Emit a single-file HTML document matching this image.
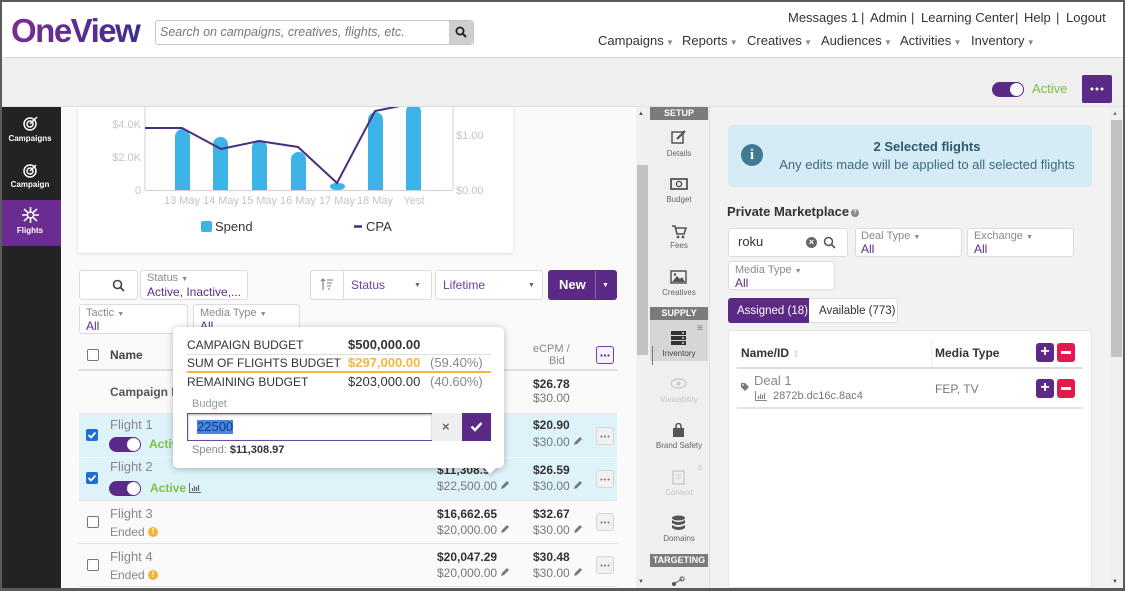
<!DOCTYPE html>
<html><head><meta charset="utf-8">
<style>
*{box-sizing:border-box;margin:0;padding:0}
body{width:1125px;height:591px;overflow:hidden;position:relative;background:#fafafa;font-family:"Liberation Sans",Arial,sans-serif;color:#333}
.a{position:absolute}
.t{position:absolute;white-space:nowrap;line-height:14px}
.b{font-weight:bold}
.box{position:absolute;background:#fff;border:1px solid #dcdcdc;border-radius:3px}
.cb{position:absolute;width:12px;height:12px;border:1px solid #777;border-radius:2px;background:#fff}
.cbk{position:absolute;width:12px;height:12px;border-radius:2px;background:#1d6fd6}
.dots{position:absolute;width:18px;height:18px;background:#f1f1f1;border:1px solid #d6d6d6;border-radius:3px}
.lab{font-size:11px;color:#8a8a8a}
.pv{font-size:12px;color:#5b2a86}
.nl{position:absolute;width:58px;text-align:center;font-size:8px;color:#666;line-height:10px}
.sec{position:absolute;left:650px;width:58px;height:13px;background:#7b7b7b;color:#fff;font-size:9px;font-weight:bold;text-align:center;line-height:13px}
.g{color:#777}
.warn{position:absolute;width:10px;height:10px;border-radius:50%;background:#f5b335;color:#fff;font-size:8px;font-weight:bold;text-align:center;line-height:10px}
</style></head><body>

<!-- header -->
<div class="a" style="left:0;top:0;width:1125px;height:58px;background:#fff;border-bottom:1px solid #d8d8d8"></div>
<div class="a" style="left:0;top:58px;width:1125px;height:49px;background:#f0efef;border-bottom:1px solid #e2e2e2"></div>
<div class="t b" style="left:11px;top:14px;font-size:33px;line-height:33px;letter-spacing:-1.5px;padding-right:6px;background:linear-gradient(90deg,#7b2d94,#3c2d8c);-webkit-background-clip:text;background-clip:text;color:transparent">OneView</div>
<div class="a" style="left:155px;top:20px;width:319px;height:25px;border:1px solid #c4c4c4;border-radius:3px;background:#fff"></div>
<div class="t" style="left:160px;top:25px;font-size:12.5px;font-style:italic;color:#777">Search on campaigns, creatives, flights, etc.</div>
<div class="a" style="left:449px;top:21px;width:24px;height:23px;background:#cfcfcf;border-radius:0 3px 3px 0"></div>
<svg class="a" style="left:455px;top:26px" width="12" height="12"><circle cx="5" cy="5" r="3.6" fill="none" stroke="#222" stroke-width="1.8"/><line x1="7.5" y1="7.5" x2="11" y2="11" stroke="#222" stroke-width="2"/></svg>

<div class="t" style="left:788px;top:11px;font-size:13px">Messages 1</div>
<div class="t" style="left:861px;top:11px;font-size:13px">|</div>
<div class="t" style="left:870px;top:11px;font-size:13px">Admin</div>
<div class="t" style="left:911px;top:11px;font-size:13px">|</div>
<div class="t" style="left:921px;top:11px;font-size:13px">Learning Center</div>
<div class="t" style="left:1015px;top:11px;font-size:13px">|</div>
<div class="t" style="left:1024px;top:11px;font-size:13px">Help</div>
<div class="t" style="left:1056px;top:11px;font-size:13px">|</div>
<div class="t" style="left:1066px;top:11px;font-size:13px">Logout</div>

<div class="t" style="left:598px;top:34px;font-size:13px">Campaigns<span style="font-size:8px;color:#888"> ▼</span></div>
<div class="t" style="left:682px;top:34px;font-size:13px">Reports<span style="font-size:8px;color:#888"> ▼</span></div>
<div class="t" style="left:747px;top:34px;font-size:13px">Creatives<span style="font-size:8px;color:#888"> ▼</span></div>
<div class="t" style="left:821px;top:34px;font-size:13px">Audiences<span style="font-size:8px;color:#888"> ▼</span></div>
<div class="t" style="left:900px;top:34px;font-size:13px">Activities<span style="font-size:8px;color:#888"> ▼</span></div>
<div class="t" style="left:971px;top:34px;font-size:13px">Inventory<span style="font-size:8px;color:#888"> ▼</span></div>

<div class="a" style="left:992px;top:82px;width:32px;height:15px;border-radius:8px;background:#5b2a86"></div>
<div class="a" style="left:1010px;top:83px;width:13px;height:13px;border-radius:50%;background:#fff"></div>
<div class="t" style="left:1032px;top:82px;font-size:13px;color:#7cc242">Active</div>
<div class="a" style="left:1082px;top:75px;width:30px;height:28px;background:#5b2a86;border-radius:2px"></div>
<svg class="a" style="left:1090px;top:87px" width="14" height="4"><circle cx="2" cy="2" r="1.5" fill="#fff"/><circle cx="7" cy="2" r="1.5" fill="#fff"/><circle cx="12" cy="2" r="1.5" fill="#fff"/></svg>

<!-- left sidebar -->
<div class="a" style="left:0;top:107px;width:61px;height:484px;background:#232323"></div>
<div class="a" style="left:0;top:200px;width:61px;height:46px;background:#6a2c91"></div>
<svg class="a" style="left:22px;top:115px" width="17" height="16"><circle cx="8" cy="9" r="6" fill="none" stroke="#fff" stroke-width="1.5"/><circle cx="8" cy="9" r="3" fill="none" stroke="#fff" stroke-width="1.5"/><line x1="8" y1="9" x2="15" y2="2" stroke="#fff" stroke-width="1.5"/></svg>
<div class="nl" style="left:1px;top:134px;color:#fff;font-weight:bold">Campaigns</div>
<svg class="a" style="left:22px;top:162px" width="17" height="16"><circle cx="8" cy="9" r="6" fill="none" stroke="#fff" stroke-width="1.5"/><circle cx="8" cy="9" r="3" fill="none" stroke="#fff" stroke-width="1.5"/><line x1="8" y1="9" x2="14" y2="3" stroke="#fff" stroke-width="1.5"/></svg>
<div class="nl" style="left:1px;top:180px;color:#fff;font-weight:bold">Campaign</div>
<svg class="a" style="left:21px;top:206px" width="19" height="18"><path d="M3 3 L16 15 M16 3 L3 15 M9.5 1 L9.5 17 M1 9 L18 9" stroke="#fff" stroke-width="1.6"/><circle cx="9.5" cy="9" r="3" fill="#6a2c91" stroke="#fff" stroke-width="1.4"/></svg>
<div class="nl" style="left:1px;top:226px;color:#fff;font-weight:bold">Flights</div>

<!-- chart card -->
<div class="a" style="left:78px;top:107px;width:435px;height:146px;background:#fff;box-shadow:0 1px 3px rgba(0,0,0,.13)"></div>
<svg class="a" style="left:78px;top:107px" width="435" height="146" font-family="Liberation Sans, Arial, sans-serif">
<g transform="translate(-78,-107)">
<line x1="145" y1="107" x2="145" y2="190" stroke="#d0d0d0"/>
<line x1="453" y1="107" x2="453" y2="190" stroke="#d0d0d0"/>
<line x1="145" y1="190.5" x2="453" y2="190.5" stroke="#d0d0d0"/>
<g fill="#3db4e8">
<rect x="175" y="129" width="15" height="61" rx="7.5"/><rect x="175" y="140" width="15" height="50"/>
<rect x="213" y="137" width="15" height="53" rx="7.5"/><rect x="213" y="148" width="15" height="42"/>
<rect x="252" y="140" width="15" height="50" rx="7.5"/><rect x="252" y="151" width="15" height="39"/>
<rect x="291" y="152" width="15" height="38" rx="7.5"/><rect x="291" y="163" width="15" height="27"/>
<rect x="330" y="183" width="15" height="7" rx="6"/>
<rect x="368" y="112" width="15" height="78" rx="7.5"/><rect x="368" y="123" width="15" height="67"/>
<rect x="406" y="104" width="15" height="86" rx="7.5"/><rect x="406" y="115" width="15" height="75"/>
</g>
<polyline points="145,128 182,128 221,149 259,141 298,147 337,183 375,111 400,106 420,100" fill="none" stroke="#4b2c7e" stroke-width="2"/>
<g font-size="11" fill="#c4c4c4">
<text x="141" y="128" text-anchor="end">$4.0K</text>
<text x="141" y="161" text-anchor="end">$2.0K</text>
<text x="141" y="194" text-anchor="end">0</text>
<text x="456" y="139">$1.00</text>
<text x="456" y="194">$0.00</text>
<g text-anchor="middle">
<text x="182" y="204">13 May</text><text x="221" y="204">14 May</text><text x="259" y="204">15 May</text><text x="298" y="204">16 May</text><text x="337" y="204">17 May</text><text x="375" y="204">18 May</text><text x="414" y="204">Yest</text>
</g></g>
<rect x="201" y="221" width="11" height="11" rx="2" fill="#3db4e8"/>
<text x="215" y="231" font-size="13" fill="#333">Spend</text>
<line x1="354" y1="226.5" x2="362" y2="226.5" stroke="#4b2c7e" stroke-width="2.5"/>
<text x="366" y="231" font-size="13" fill="#333">CPA</text>
</g></svg>

<!-- filters -->
<div class="box" style="left:79px;top:270px;width:59px;height:30px"></div>
<svg class="a" style="left:112px;top:279px" width="13" height="13"><circle cx="5.5" cy="5.5" r="4" fill="none" stroke="#444" stroke-width="1.6"/><line x1="8.5" y1="8.5" x2="12" y2="12" stroke="#444" stroke-width="1.8"/></svg>
<div class="box" style="left:140px;top:270px;width:108px;height:30px"></div>
<div class="t lab" style="left:147px;top:271px">Status <span style="font-size:7px">▼</span></div>
<div class="t pv" style="left:147px;top:285px">Active, Inactive,...</div>
<div class="box" style="left:310px;top:270px;width:122px;height:30px"></div>
<div class="a" style="left:343px;top:271px;width:1px;height:28px;background:#dcdcdc"></div>
<svg class="a" style="left:320px;top:278px" width="14" height="13"><path d="M3 12 V1 M1 3 L3 1 L5 3" stroke="#777" fill="none" stroke-width="1.1"/><path d="M7 2 H13 M7 5 H12 M7 8 H11 M8 11 H10" stroke="#777" stroke-width="1.1"/></svg>
<div class="t" style="left:351px;top:278px;font-size:12px;color:#6b3fa0">Status</div>
<div class="t" style="left:414px;top:279px;font-size:7px;color:#666">▼</div>
<div class="box" style="left:435px;top:270px;width:108px;height:30px"></div>
<div class="t" style="left:443px;top:278px;font-size:12px;color:#6b3fa0">Lifetime</div>
<div class="t" style="left:528px;top:279px;font-size:7px;color:#666">▼</div>
<div class="a" style="left:548px;top:270px;width:69px;height:30px;background:#5b2a86;border-radius:3px"></div>
<div class="a" style="left:595px;top:271px;width:1px;height:28px;background:#8a64ad"></div>
<div class="t b" style="left:559px;top:278px;font-size:13px;color:#fff">New</div>
<div class="t" style="left:602px;top:279px;font-size:7px;color:#fff">▼</div>

<div class="box" style="left:79px;top:304px;width:109px;height:30px"></div>
<div class="t lab" style="left:86px;top:306px">Tactic <span style="font-size:7px">▼</span></div>
<div class="t pv" style="left:86px;top:319px">All</div>
<div class="box" style="left:193px;top:304px;width:107px;height:30px"></div>
<div class="t lab" style="left:200px;top:306px">Media Type <span style="font-size:7px">▼</span></div>
<div class="t pv" style="left:200px;top:319px">All</div>

<!-- table -->
<div class="a" style="left:79px;top:369px;width:538px;height:2px;background:#e0e0e0"></div>
<div class="cb" style="left:87px;top:349px"></div>
<div class="t b" style="left:110px;top:348px;font-size:12px;color:#444">Name</div>
<div class="t" style="left:533px;top:342px;font-size:11px;color:#888">eCPM /</div>
<div class="t" style="left:549px;top:354px;font-size:11px;color:#888">Bid</div>
<div class="a" style="left:596px;top:346px;width:18px;height:18px;border:1px solid #6b3fa0;border-radius:3px;background:#f6f1fa"></div>
<svg class="a" style="left:600px;top:354px" width="10" height="3"><circle cx="1.5" cy="1.5" r="1.1" fill="#5b2a86"/><circle cx="5" cy="1.5" r="1.1" fill="#5b2a86"/><circle cx="8.5" cy="1.5" r="1.1" fill="#5b2a86"/></svg>

<div class="t b" style="left:110px;top:385px;font-size:12px;color:#555">Campaign Pe</div>
<div class="t b" style="left:533px;top:377px;font-size:12px">$26.78</div>
<div class="t g" style="left:533px;top:391px;font-size:12px">$30.00</div>
<div class="a" style="left:79px;top:413px;width:538px;height:1px;background:#e6e6e6"></div>

<div class="a" style="left:79px;top:414px;width:538px;height:86px;background:#def2fa"></div>
<div class="a" style="left:79px;top:457px;width:538px;height:1px;background:#f4fbfe"></div>
<div class="a" style="left:79px;top:500px;width:538px;height:1px;background:#e3e3e3"></div>
<div class="a" style="left:79px;top:543px;width:538px;height:1px;background:#e3e3e3"></div>
<div class="a" style="left:79px;top:586px;width:538px;height:1px;background:#e3e3e3"></div>

<!-- Flight 1 -->
<div class="cbk" style="left:86px;top:429px"></div>
<svg class="a" style="left:86px;top:429px" width="12" height="12"><path d="M2.5 6 L5 8.5 L9.5 3.5" stroke="#fff" stroke-width="1.8" fill="none"/></svg>
<div class="t" style="left:110px;top:418px;font-size:13px;color:#888">Flight 1</div>
<div class="a" style="left:109px;top:437px;width:32px;height:15px;border-radius:8px;background:#5b2a86"></div>
<div class="a" style="left:127px;top:438px;width:13px;height:13px;border-radius:50%;background:#fff"></div>
<div class="t b" style="left:149px;top:437px;font-size:12px;color:#7cc242">Active</div>
<div class="t b" style="left:533px;top:418px;font-size:12px">$20.90</div>
<div class="t g" style="left:533px;top:435px;font-size:12px">$30.00 <svg width="10" height="10"><path d="M1 9 L2 6 L7 1 L9 3 L4 8 Z" fill="#777"/></svg></div>
<div class="dots" style="left:596px;top:427px"></div>
<svg class="a" style="left:600px;top:435px" width="10" height="3"><circle cx="1.5" cy="1.5" r="1" fill="#777"/><circle cx="5" cy="1.5" r="1" fill="#777"/><circle cx="8.5" cy="1.5" r="1" fill="#777"/></svg>

<!-- Flight 2 -->
<div class="cbk" style="left:86px;top:472px"></div>
<svg class="a" style="left:86px;top:472px" width="12" height="12"><path d="M2.5 6 L5 8.5 L9.5 3.5" stroke="#fff" stroke-width="1.8" fill="none"/></svg>
<div class="t" style="left:110px;top:460px;font-size:13px;color:#888">Flight 2</div>
<div class="a" style="left:109px;top:481px;width:32px;height:15px;border-radius:8px;background:#5b2a86"></div>
<div class="a" style="left:127px;top:482px;width:13px;height:13px;border-radius:50%;background:#fff"></div>
<div class="t b" style="left:150px;top:481px;font-size:12px;color:#7cc242">Active</div>
<svg class="a" style="left:189px;top:483px" width="12" height="10"><path d="M0.5 0 V9.5 H12" stroke="#666" fill="none"/><path d="M3.5 8 V5 M5.5 8 V3 M7.5 8 V4 M9.5 8 V2" stroke="#666" stroke-width="1.2"/></svg>
<div class="t b" style="left:437px;top:463px;font-size:12px">$11,308.9</div>
<div class="t g" style="left:437px;top:479px;font-size:12px">$22,500.00 <svg width="10" height="10"><path d="M1 9 L2 6 L7 1 L9 3 L4 8 Z" fill="#777"/></svg></div>
<div class="t b" style="left:533px;top:463px;font-size:12px">$26.59</div>
<div class="t g" style="left:533px;top:479px;font-size:12px">$30.00 <svg width="10" height="10"><path d="M1 9 L2 6 L7 1 L9 3 L4 8 Z" fill="#777"/></svg></div>
<div class="dots" style="left:596px;top:470px"></div>
<svg class="a" style="left:600px;top:478px" width="10" height="3"><circle cx="1.5" cy="1.5" r="1" fill="#777"/><circle cx="5" cy="1.5" r="1" fill="#777"/><circle cx="8.5" cy="1.5" r="1" fill="#777"/></svg>

<!-- Flight 3 -->
<div class="cb" style="left:87px;top:516px"></div>
<div class="t" style="left:110px;top:507px;font-size:13px;color:#888">Flight 3</div>
<div class="t" style="left:110px;top:525px;font-size:12px;color:#888">Ended</div>
<div class="warn" style="left:148px;top:527px">!</div>
<div class="t b" style="left:437px;top:507px;font-size:12px">$16,662.65</div>
<div class="t g" style="left:437px;top:523px;font-size:12px">$20,000.00 <svg width="10" height="10"><path d="M1 9 L2 6 L7 1 L9 3 L4 8 Z" fill="#777"/></svg></div>
<div class="t b" style="left:533px;top:507px;font-size:12px">$32.67</div>
<div class="t g" style="left:533px;top:523px;font-size:12px">$30.00 <svg width="10" height="10"><path d="M1 9 L2 6 L7 1 L9 3 L4 8 Z" fill="#777"/></svg></div>
<div class="dots" style="left:596px;top:513px"></div>
<svg class="a" style="left:600px;top:521px" width="10" height="3"><circle cx="1.5" cy="1.5" r="1" fill="#777"/><circle cx="5" cy="1.5" r="1" fill="#777"/><circle cx="8.5" cy="1.5" r="1" fill="#777"/></svg>

<!-- Flight 4 -->
<div class="cb" style="left:87px;top:559px"></div>
<div class="t" style="left:110px;top:550px;font-size:13px;color:#888">Flight 4</div>
<div class="t" style="left:110px;top:568px;font-size:12px;color:#888">Ended</div>
<div class="warn" style="left:148px;top:570px">!</div>
<div class="t b" style="left:437px;top:550px;font-size:12px">$20,047.29</div>
<div class="t g" style="left:437px;top:566px;font-size:12px">$20,000.00 <svg width="10" height="10"><path d="M1 9 L2 6 L7 1 L9 3 L4 8 Z" fill="#777"/></svg></div>
<div class="t b" style="left:533px;top:550px;font-size:12px">$30.48</div>
<div class="t g" style="left:533px;top:566px;font-size:12px">$30.00 <svg width="10" height="10"><path d="M1 9 L2 6 L7 1 L9 3 L4 8 Z" fill="#777"/></svg></div>
<div class="dots" style="left:596px;top:556px"></div>
<svg class="a" style="left:600px;top:564px" width="10" height="3"><circle cx="1.5" cy="1.5" r="1" fill="#777"/><circle cx="5" cy="1.5" r="1" fill="#777"/><circle cx="8.5" cy="1.5" r="1" fill="#777"/></svg>

<!-- popup -->
<div class="a" style="left:173px;top:327px;width:331px;height:141px;background:#fff;border-radius:5px;box-shadow:0 1px 7px rgba(0,0,0,.28)"></div>
<div class="a" style="left:485px;top:462px;width:10px;height:10px;background:#fff;transform:rotate(45deg);box-shadow:2px 2px 3px rgba(0,0,0,.15)"></div>
<div class="a" style="left:480px;top:455px;width:22px;height:11px;background:#fff"></div>
<div class="t" style="left:187px;top:338px;font-size:12px">CAMPAIGN BUDGET</div>
<div class="t b" style="left:348px;top:338px;font-size:13px">$500,000.00</div>
<div class="a" style="left:187px;top:354px;width:304px;height:1px;background:#ddd"></div>
<div class="t" style="left:187px;top:356px;font-size:12px">SUM OF FLIGHTS BUDGET</div>
<div class="t b" style="left:348px;top:356px;font-size:13px;color:#f4b63f">$297,000.00</div>
<div class="t" style="left:430px;top:356px;font-size:13px;color:#888">(59.40%)</div>
<div class="a" style="left:187px;top:371px;width:304px;height:2px;background:#f4b63f"></div>
<div class="t" style="left:187px;top:375px;font-size:12px">REMAINING BUDGET</div>
<div class="t" style="left:348px;top:375px;font-size:13px">$203,000.00</div>
<div class="t" style="left:430px;top:375px;font-size:13px;color:#888">(40.60%)</div>
<div class="t" style="left:192px;top:397px;font-size:11px;color:#999">Budget</div>
<div class="a" style="left:187px;top:413px;width:246px;height:28px;border:1px solid #6b4a9a;box-shadow:inset 0 1px 2px rgba(107,74,154,.5);background:#fff"></div>
<div class="t" style="left:197px;top:420px;font-size:13px;background:#4a86e0;color:#123a8a">22500</div>
<div class="a" style="left:432px;top:413px;width:30px;height:28px;background:#eeeeee"></div>
<div class="t b" style="left:442px;top:420px;font-size:13px;color:#666">×</div>
<div class="a" style="left:462px;top:413px;width:29px;height:28px;background:#5b2a86"></div>
<svg class="a" style="left:470px;top:421px" width="13" height="11"><path d="M1.5 5.5 L5 9 L11.5 2" stroke="#fff" stroke-width="2.4" fill="none"/></svg>
<div class="t" style="left:192px;top:443px;font-size:11px;color:#888">Spend: <b style="color:#333">$11,308.97</b></div>

<!-- middle scrollbar -->
<div class="a" style="left:636px;top:107px;width:13px;height:481px;background:#f0f0f0"></div>
<div class="a" style="left:637px;top:165px;width:11px;height:190px;background:#c2c2c2"></div>
<div class="t" style="left:638px;top:107px;font-size:6px;color:#555">▲</div>
<div class="t" style="left:638px;top:575px;font-size:6px;color:#555">▼</div>

<!-- middle nav -->
<div class="a" style="left:649px;top:107px;width:61px;height:481px;background:#efefef;border-right:1px solid #e0e0e0"></div>
<div class="a" style="left:710px;top:107px;width:400px;height:481px;background:#f2f2f2"></div>
<div class="sec" style="top:107px">SETUP</div>
<svg class="a" style="left:671px;top:130px" width="16" height="15"><rect x="1" y="2" width="11" height="11" fill="none" stroke="#555" stroke-width="1.5"/><path d="M6 9 L14 1" stroke="#555" stroke-width="2.2"/></svg>
<div class="nl" style="left:650px;top:149px">Details</div>
<svg class="a" style="left:670px;top:178px" width="18" height="12"><rect x="1" y="1" width="16" height="10" fill="none" stroke="#444" stroke-width="1.6"/><circle cx="9" cy="6" r="2.6" fill="none" stroke="#444" stroke-width="1.3"/></svg>
<div class="nl" style="left:650px;top:195px">Budget</div>
<svg class="a" style="left:671px;top:224px" width="16" height="15"><path d="M1 2 H4 L6 10 H13 L15 4 H5" fill="none" stroke="#555" stroke-width="1.6"/><circle cx="7" cy="13" r="1.4" fill="#555"/><circle cx="12" cy="13" r="1.4" fill="#555"/></svg>
<div class="nl" style="left:650px;top:241px">Fees</div>
<svg class="a" style="left:670px;top:270px" width="17" height="14"><rect x="1" y="1" width="15" height="12" fill="none" stroke="#555" stroke-width="1.5"/><path d="M2 12 L7 6 L10 9 L12 7 L15 12 Z" fill="#555"/><circle cx="5" cy="4.5" r="1.3" fill="#555"/></svg>
<div class="nl" style="left:650px;top:288px">Creatives</div>
<div class="sec" style="top:307px">SUPPLY</div>
<div class="a" style="left:650px;top:320px;width:58px;height:41px;background:#d6d6d6"></div>
<div class="a" style="left:652px;top:346px;width:1px;height:19px;background:#777"></div>
<div class="t" style="left:697px;top:322px;font-size:10px;color:#777">≡</div>
<svg class="a" style="left:670px;top:331px" width="17" height="14"><rect x="1" y="0" width="15" height="4" fill="#333"/><rect x="1" y="5" width="15" height="4" fill="#333"/><rect x="1" y="10" width="15" height="4" fill="#333"/><circle cx="13" cy="2" r="0.9" fill="#fff"/><circle cx="13" cy="7" r="0.9" fill="#fff"/><circle cx="13" cy="12" r="0.9" fill="#fff"/></svg>
<div class="nl" style="left:650px;top:349px;color:#444">Inventory</div>
<svg class="a" style="left:670px;top:378px" width="17" height="11"><ellipse cx="8.5" cy="5.5" rx="7.5" ry="4.5" fill="none" stroke="#ccc" stroke-width="1.4"/><circle cx="8.5" cy="5.5" r="2" fill="#ccc"/></svg>
<div class="nl" style="left:650px;top:395px;color:#c8c8c8">Viewability</div>
<svg class="a" style="left:672px;top:423px" width="13" height="15"><path d="M4 5 V3 a2.5 2.5 0 0 1 5 0 V5" fill="none" stroke="#555" stroke-width="1.5"/><rect x="1" y="5" width="11" height="9" fill="#555"/></svg>
<div class="nl" style="left:650px;top:441px">Brand Safety</div>
<div class="t" style="left:697px;top:462px;font-size:10px;color:#ccc">≡</div>
<svg class="a" style="left:672px;top:470px" width="13" height="15"><rect x="1" y="1" width="11" height="13" fill="none" stroke="#ccc" stroke-width="1.4"/><path d="M4 5 H9 M4 8 H9" stroke="#ccc"/></svg>
<div class="nl" style="left:650px;top:488px;color:#c8c8c8">Context</div>
<svg class="a" style="left:671px;top:515px" width="15" height="16"><ellipse cx="7.5" cy="3" rx="6.5" ry="2.5" fill="#555"/><path d="M1 5 Q7.5 9 14 5 V8 Q7.5 12 1 8 Z" fill="#555"/><path d="M1 10 Q7.5 14 14 10 V13 Q7.5 17 1 13 Z" fill="#555"/></svg>
<div class="nl" style="left:650px;top:534px">Domains</div>
<div class="sec" style="top:554px">TARGETING</div>
<svg class="a" style="left:671px;top:575px" width="14" height="12"><circle cx="3" cy="9" r="2" fill="#555"/><circle cx="11" cy="4" r="2" fill="none" stroke="#555"/><line x1="3" y1="9" x2="11" y2="4" stroke="#555"/></svg>

<!-- right scrollbar -->
<div class="a" style="left:1110px;top:107px;width:13px;height:481px;background:#f0f0f0"></div>
<div class="a" style="left:1111px;top:120px;width:11px;height:237px;background:#c2c2c2"></div>
<div class="t" style="left:1112px;top:107px;font-size:6px;color:#777">▲</div>
<div class="t" style="left:1112px;top:575px;font-size:6px;color:#555">▼</div>

<!-- right panel -->
<div class="a" style="left:728px;top:125px;width:364px;height:62px;background:#d5ebf5;border-radius:4px"></div>
<div class="a" style="left:741px;top:144px;width:22px;height:22px;border-radius:50%;background:#3e7b93;color:#fff;font-weight:bold;font-size:15px;text-align:center;line-height:22px;font-family:'Liberation Serif',serif">i</div>
<div class="t b" style="left:727px;top:140px;width:400px;text-align:center;font-size:13px;color:#2f5a6e">2 Selected flights</div>
<div class="t" style="left:727px;top:158px;width:400px;text-align:center;font-size:13px;color:#3f6a7e">Any edits made will be applied to all selected flights</div>

<div class="t b" style="left:727px;top:205px;font-size:13px">Private Marketplace</div>
<div class="a" style="left:851px;top:209px;width:8px;height:8px;border-radius:50%;background:#888;color:#fff;font-size:6px;font-weight:bold;text-align:center;line-height:8px">?</div>

<div class="box" style="left:728px;top:228px;width:120px;height:29px"></div>
<div class="t" style="left:738px;top:235px;font-size:13px">roku</div>
<div class="a" style="left:806px;top:237px;width:11px;height:11px;border-radius:50%;background:#666;color:#fff;font-size:9px;font-weight:bold;text-align:center;line-height:11px">×</div>
<svg class="a" style="left:823px;top:236px" width="13" height="13"><circle cx="5.5" cy="5.5" r="4" fill="none" stroke="#555" stroke-width="1.5"/><line x1="8.5" y1="8.5" x2="12" y2="12" stroke="#555" stroke-width="1.6"/></svg>

<div class="box" style="left:855px;top:228px;width:107px;height:29px"></div>
<div class="t lab" style="left:861px;top:229px">Deal Type <span style="font-size:7px">▼</span></div>
<div class="t pv" style="left:861px;top:242px">All</div>
<div class="box" style="left:967px;top:228px;width:107px;height:29px"></div>
<div class="t lab" style="left:974px;top:229px">Exchange <span style="font-size:7px">▼</span></div>
<div class="t pv" style="left:974px;top:242px">All</div>
<div class="box" style="left:728px;top:261px;width:107px;height:29px"></div>
<div class="t lab" style="left:735px;top:263px">Media Type <span style="font-size:7px">▼</span></div>
<div class="t pv" style="left:735px;top:276px">All</div>

<div class="a" style="left:728px;top:298px;width:82px;height:25px;background:#5b2a86;border-radius:3px 0 0 3px"></div>
<div class="t" style="left:737px;top:304px;font-size:11.5px;color:#fff">Assigned (18)</div>
<div class="a" style="left:809px;top:298px;width:89px;height:25px;background:#fff;border:1px solid #ddd;border-left:none;border-radius:0 3px 3px 0"></div>
<div class="t" style="left:819px;top:304px;font-size:11.5px">Available (773)</div>

<div class="a" style="left:728px;top:330px;width:364px;height:258px;background:#fff;border:1px solid #e4e4e4;border-radius:3px"></div>
<div class="t b" style="left:741px;top:346px;font-size:12px">Name/ID <span style="color:#ccc;font-weight:normal;font-size:9px">⇕</span></div>
<div class="a" style="left:931px;top:340px;width:1px;height:27px;background:#eee"></div>
<div class="t b" style="left:935px;top:346px;font-size:12px">Media Type</div>
<div class="a" style="left:1036px;top:343px;width:18px;height:19px;background:#5b2a86;border-radius:3px;color:#fff;font-weight:bold;font-size:16px;text-align:center;line-height:18px">+</div>
<div class="a" style="left:1057px;top:343px;width:18px;height:19px;background:#e3194b;border-radius:3px"></div>
<div class="a" style="left:1061px;top:351px;width:10px;height:3px;background:#fff"></div>
<div class="a" style="left:737px;top:367px;width:346px;height:2px;background:#dcdcdc"></div>

<svg class="a" style="left:740px;top:382px" width="10" height="10"><path d="M1 1 H5 L9 5 L5 9 L1 5 Z" fill="#777"/><circle cx="3" cy="3" r="0.9" fill="#fff"/></svg>
<div class="t" style="left:754px;top:374px;font-size:13px;color:#888">Deal 1</div>
<svg class="a" style="left:755px;top:391px" width="12" height="10"><path d="M0.5 0 V9.5 H12" stroke="#888" fill="none"/><path d="M3.5 8 V5 M5.5 8 V3 M7.5 8 V4 M9.5 8 V2" stroke="#888" stroke-width="1.2"/></svg>
<div class="t" style="left:773px;top:389px;font-size:11px;color:#777">2872b.dc16c.8ac4</div>
<div class="t" style="left:935px;top:382px;font-size:12px;color:#777">FEP, TV</div>
<div class="a" style="left:1036px;top:379px;width:18px;height:19px;background:#5b2a86;border-radius:3px;color:#fff;font-weight:bold;font-size:16px;text-align:center;line-height:18px">+</div>
<div class="a" style="left:1057px;top:379px;width:18px;height:19px;background:#e3194b;border-radius:3px"></div>
<div class="a" style="left:1061px;top:387px;width:10px;height:3px;background:#fff"></div>
<div class="a" style="left:737px;top:407px;width:346px;height:2px;background:#e4e4e4"></div>

<!-- outer frame -->
<div class="a" style="left:0;top:0;width:1125px;height:591px;border:2px solid #5a5a5a;border-bottom-width:3px;pointer-events:none"></div>
</body></html>
